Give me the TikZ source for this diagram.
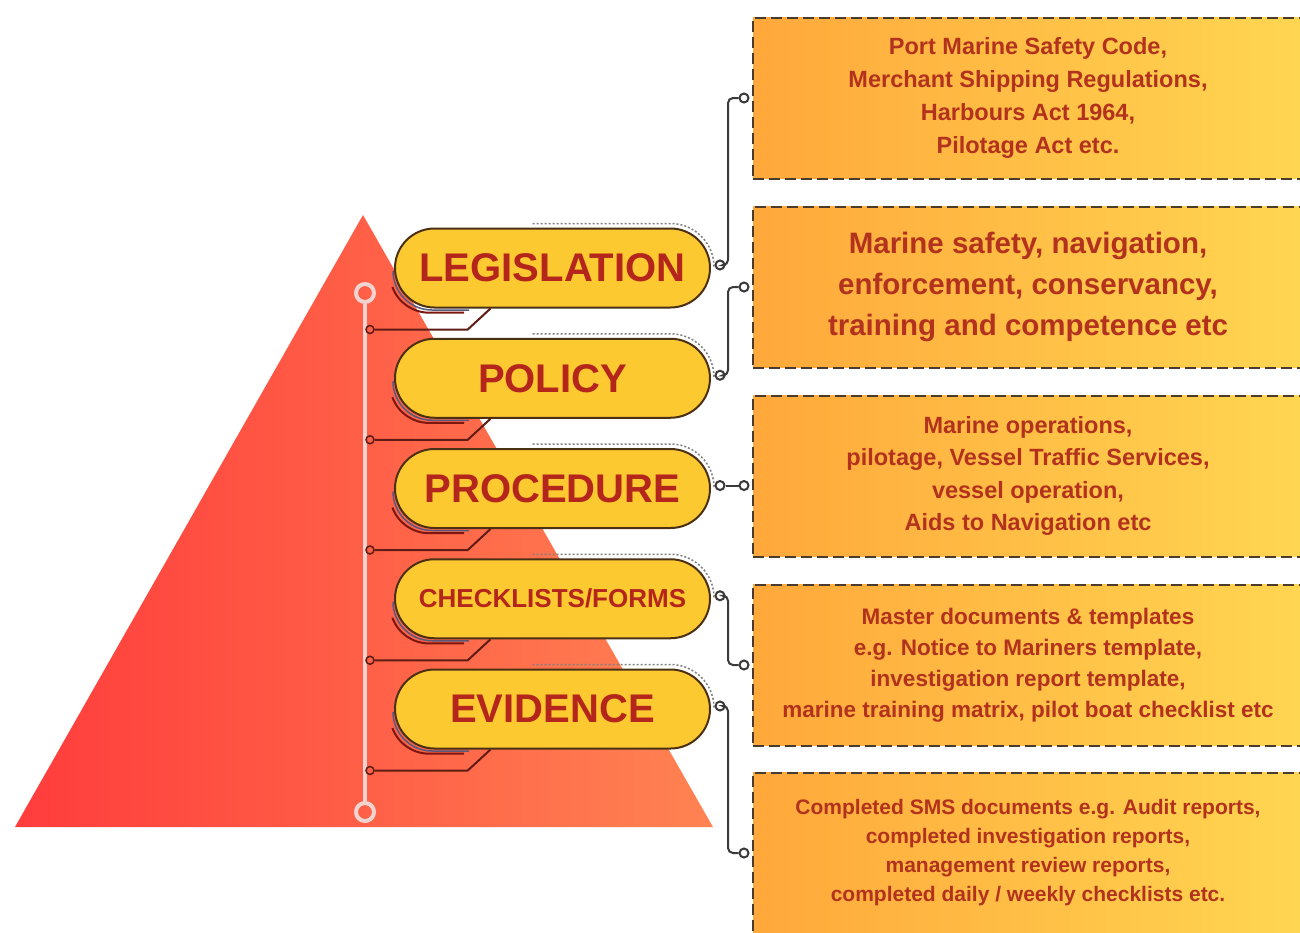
\documentclass[tikz,border=0pt]{standalone}
\usepackage{fontspec}
\setmainfont{Liberation Sans}
\usetikzlibrary{positioning,calc}
\definecolor{pyrleft}{HTML}{FF3C3C}
\definecolor{pyrright}{HTML}{FF8352}
\definecolor{spinecol}{HTML}{F1D3CF}
\definecolor{pillfill}{HTML}{FDC930}
\definecolor{pillline}{HTML}{4B3013}
\definecolor{pilltext}{HTML}{B4251C}
\definecolor{boxleft}{HTML}{FFA83B}
\definecolor{boxright}{HTML}{FFD651}
\definecolor{boxline}{HTML}{4A3B2C}
\definecolor{boxtext}{HTML}{B2321E}
\definecolor{wirecol}{HTML}{3A3A3A}
\definecolor{lwirecol}{HTML}{5E1C14}
\tikzset{%
  pill/.style={
    draw=pillline,
    line width=2pt,
    fill=pillfill,
    rounded corners=39.5pt,
    minimum width=315pt,
    minimum height=79pt,
    inner sep=0pt,
    text=pilltext
  },
  infobox/.style={
    draw=boxline,
    line width=2pt,
    dash pattern=on 11pt off 5pt,
    left color=boxleft,
    right color=boxright,
    minimum width=550pt,
    minimum height=161pt,
    inner sep=0pt,
    align=center,
    text=boxtext
  },
  ring/.style={circle, draw=spinecol, line width=4pt, minimum size=18pt, inner sep=0pt},
  spine/.style={draw=spinecol, line width=4pt},
  ldot/.style={circle, draw=lwirecol, line width=1.5pt, minimum size=8pt, inner sep=0pt},
  rdot/.style={circle, draw=wirecol, fill=white, line width=2pt, minimum size=9pt, inner sep=0pt},
  lwire/.style={draw=lwirecol, line width=2pt},
  rwire/.style={draw=wirecol, line width=2pt, rounded corners=5pt},
  shadegray/.style={draw=black!55!blue!30!gray, line width=1.5pt},
  shadered/.style={draw=lwirecol!80!red, line width=2pt},
  rimdots/.style={draw=gray, line width=1.5pt, dash pattern=on 2pt off 2pt},
}

\begin{document}
\begin{tikzpicture}[x=1pt, y=-1pt]
  \useasboundingbox[fill=white] (0,0) rectangle (1300,932);

  % pyramid
  \shade[left color=pyrleft, right color=pyrright] (15,827) -- (363,215) -- (713,827) -- cycle;

  % spine
  \node [ring] (ring-top) at (365,293) {};
  \node [ring] (ring-bot) at (365,812) {};
  \draw [spine] (ring-top) -- (ring-bot);
  \coordinate (spine) at (370,0);
  \coordinate (col) at (728,0);

  % levels
  \foreach \txt/\fs [count=\i] in {LEGISLATION/40, POLICY/40, PROCEDURE/40, {CHECKLISTS/FORMS}/26, EVIDENCE/40}
  {
    \node [pill, font=\bfseries\fontsize{\fs}{\fs}\selectfont] (pill-\i) at (552.5,{268+110.25*(\i-1)}) {\txt};
    \path ([yshift=-21pt]pill-\i.south) coordinate (lv-\i);
    \node [ldot] (ld-\i) at (lv-\i -| spine) {};
    \draw [lwire] (ld-\i.east) -- ++(93,0) -- ([xshift=-62pt]pill-\i.south);
    \draw [shadegray] ([xshift=-1pt,yshift=-3pt]pill-\i.west)
      arc [start angle=180, end angle=90, radius=39] -- ++(37,0);
    \draw [shadered] ([xshift=-1.6pt,yshift=-19pt]pill-\i.west)
      arc [start angle=160, end angle=90, radius=39] -- ++(35,0);
    \draw [rimdots] ([xshift=-20pt,yshift=4pt]pill-\i.north) -- ++(138,0)
      arc [start angle=270, end angle=360, radius=43.5];
    \node [rdot] (pc-\i) at ([xshift=9pt,yshift=3pt]pill-\i.east) {};
  }

  % boxes
  \node [infobox, font=\bfseries\fontsize{23.5}{33}\selectfont] (box-1) at (1028,98)
    {Port Marine Safety Code,\\Merchant Shipping Regulations,\\Harbours Act 1964,\\Pilotage Act etc.};
  \node [infobox, font=\bfseries\fontsize{29.5}{41}\selectfont] (box-2) at (1028,287)
    {Marine safety, navigation,\\enforcement, conservancy,\\training and competence etc};
  \node [infobox, font=\bfseries\fontsize{23.5}{32.5}\selectfont] (box-3) at (1028,476)
    {Marine operations,\\pilotage, Vessel Traffic Services,\\vessel operation,\\Aids to Navigation etc};
  \node [infobox, font=\bfseries\fontsize{22.5}{31}\selectfont] (box-4) at (1028,665)
    {Master documents \& templates\\e.g. Notice to Mariners template,\\investigation report template,\\marine training matrix, pilot boat checklist etc};
  \node [infobox, font=\bfseries\fontsize{21}{29}\selectfont] (box-5) at (1028,853)
    {Completed SMS documents e.g. Audit reports,\\completed investigation reports,\\management review reports,\\completed daily / weekly checklists etc.};

  % wires to boxes
  \foreach \i in {1,2,4,5}
    \node [rdot] (bc-\i) at ([xshift=-8pt]box-\i.west) {};
  \node [rdot] (bc-3) at (pc-3 -| bc-1) {};

  \foreach \i in {1,2,4,5}
    \draw [rwire] (pc-\i.east) -- (pc-\i.east -| col) -- (bc-\i.west -| col) -- (bc-\i.west);
  \draw [rwire] (pc-3) -- (bc-3);

\end{tikzpicture}
\end{document}
